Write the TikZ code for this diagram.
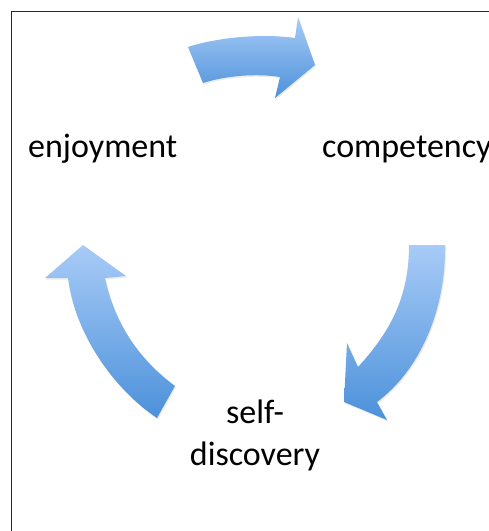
\documentclass[tikz,border=0pt]{standalone}
\usepackage{fontspec}
\setmainfont{Carlito}
\definecolor{arrowlight}{RGB}{168,203,247}
\definecolor{arrowdark}{RGB}{76,145,218}
\definecolor{framegray}{RGB}{40,40,40}
\tikzset{
  cyclearrow/.style={top color=arrowlight, bottom color=arrowdark, draw=none},
  arrowshade/.style={fill=black, fill opacity=0.08, draw=none},
  label/.style={font=\fontsize{34}{42}\selectfont, inner sep=0pt, text=black}
}
% outline of each curved block arrow, reused for its soft shade
\newcommand{\toparrowpath}{(188,47) .. controls (215,38) and (260,33) .. (295,38)
    -- (298,17) -- (315,65) -- (275,98) -- (280,77)
    .. controls (255,73) and (225,76) .. (203,83) -- cycle}
\newcommand{\rightarrowpath}{(409,245) -- (445,245)
    .. controls (446,310) and (420,370) .. (377,402)
    -- (387,420) -- (344,402) -- (347,343) -- (358,367)
    .. controls (392,330) and (409,295) .. cycle}
\newcommand{\leftarrowpath}{(83,245) -- (126,276) -- (105,278)
    .. controls (115,325) and (140,360) .. (175,386)
    -- (157,418)
    .. controls (115,390) and (75,335) .. (68,278)
    -- (45,278) -- cycle}
\begin{document}
\begin{tikzpicture}[x=1pt, y=-1pt]
  \clip (0,0) rectangle (489,531);
  \fill[white] (0,0) rectangle (489,531);
  % frame
  \draw[framegray, line width=0.9pt] (11,540) -- (11,11) -- (500,11);

  % faint shade under the arrows
  \begin{scope}[shift={(1,1.5)}]
    \path[arrowshade] \toparrowpath;
    \path[arrowshade] \rightarrowpath;
    \path[arrowshade] \leftarrowpath;
  \end{scope}

  % enjoyment -> competency
  \path[cyclearrow] \toparrowpath;
  % competency -> self-discovery
  \path[cyclearrow] \rightarrowpath;
  % self-discovery -> enjoyment
  \path[cyclearrow] \leftarrowpath;

  \node[label, anchor=base west] (enjoy) at (28,157) {enjoyment};
  \node[label, anchor=base west] (comp) at (322,157) {competency};
  \node[label, anchor=base, align=center] (self) at (255,465) {self-\\discovery};
\end{tikzpicture}
\end{document}
